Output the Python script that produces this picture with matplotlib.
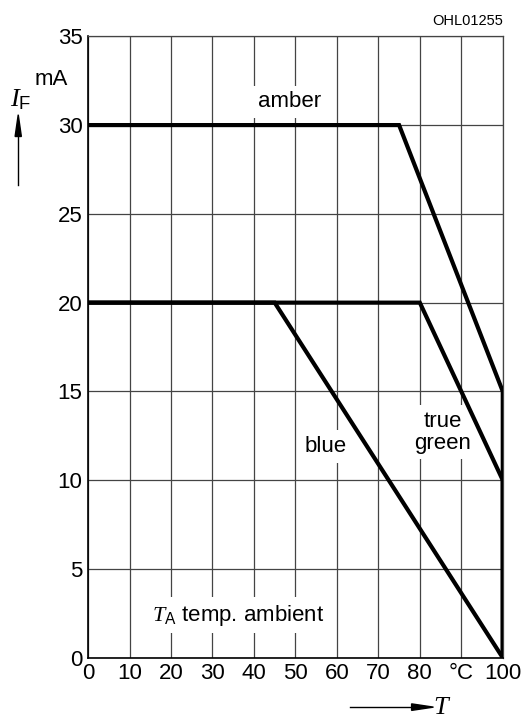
import matplotlib.pyplot as plt

# derating curves: forward current vs ambient temperature
amber_t = [0, 75, 100, 100]
amber_i = [30, 30, 15, 0]
green_t = [0, 80, 100, 100]
green_i = [20, 20, 10, 0]
blue_t = [0, 45, 100]
blue_i = [20, 20, 0]

x_ticks = [0, 10, 20, 30, 40, 50, 60, 70, 80, 90, 100]
x_labels = ['0', '10', '20', '30', '40', '50', '60', '70', '80', '°C', '100']
y_ticks = [0, 5, 10, 15, 20, 25, 30, 35]

plt.rcParams['font.family'] = ['Liberation Sans', 'DejaVu Sans']
plt.rcParams['mathtext.fontset'] = 'custom'
plt.rcParams['mathtext.it'] = 'Liberation Serif:italic'
plt.rcParams['mathtext.rm'] = 'Liberation Sans'

fig = plt.figure(figsize=(5.21, 7.26), dpi=100)
ax = fig.add_axes([0.169, 0.094, 0.796, 0.856])

fs = 16
ax.set_xlim(0, 100)
ax.set_ylim(0, 35)
ax.set_xticks(x_ticks)
ax.set_xticklabels(x_labels)
ax.set_yticks(y_ticks)
ax.tick_params(length=0, labelsize=fs, pad=4)
ax.grid(True, color='#444444', linewidth=0.9)
ax.set_axisbelow(True)
for side in ['top', 'right']:
    ax.spines[side].set_color('#444444')
    ax.spines[side].set_linewidth(0.9)
for side in ['left', 'bottom']:
    ax.spines[side].set_linewidth(1.2)

lw = 3.0
ax.plot(amber_t, amber_i, color='black', linewidth=lw, solid_joinstyle='miter', zorder=3)
ax.plot(green_t, green_i, color='black', linewidth=lw, solid_joinstyle='miter', zorder=3)
ax.plot(blue_t, blue_i, color='black', linewidth=lw, solid_joinstyle='miter', zorder=3)

box = dict(facecolor='white', edgecolor='none', pad=4)
ax.text(48.7, 31.3, 'amber', fontsize=fs, ha='center', va='center', bbox=box, zorder=2)
ax.text(57.3, 11.9, 'blue', fontsize=fs, ha='center', va='center', bbox=box, zorder=2)
ax.text(85.5, 12.7, 'true\ngreen', fontsize=fs, ha='center', va='center',
        linespacing=1.05, bbox=box, zorder=2)
ax.text(15.5, 2.4, r'$T_{\mathrm{A}}$ temp. ambient', fontsize=fs, ha='left', va='center',
        bbox=box, zorder=2)

# axis annotations outside the plot
fig.text(0.965, 0.962, 'OHL01255', fontsize=10.5, ha='right', va='bottom')
fig.text(0.098, 0.891, 'mA', fontsize=fs, ha='center', va='center')
fig.text(0.040, 0.862, r'$I_{\mathrm{F}}$', fontsize=19, ha='center', va='center')
fig.add_artist(plt.Line2D([0.035, 0.035], [0.745, 0.815], color='black', linewidth=1,
                          transform=fig.transFigure))
fig.add_artist(plt.Polygon([[0.029, 0.812], [0.041, 0.812], [0.035, 0.842]],
                           closed=True, color='black', transform=fig.transFigure))
fig.add_artist(plt.Line2D([0.672, 0.79], [0.026, 0.026], color='black', linewidth=1,
                          transform=fig.transFigure))
fig.add_artist(plt.Polygon([[0.79, 0.0215], [0.79, 0.0305], [0.832, 0.026]],
                           closed=True, color='black', transform=fig.transFigure))
fig.text(0.848, 0.026, r'$T$', fontsize=19, ha='center', va='center')

fig.savefig('out.png', dpi=100)
